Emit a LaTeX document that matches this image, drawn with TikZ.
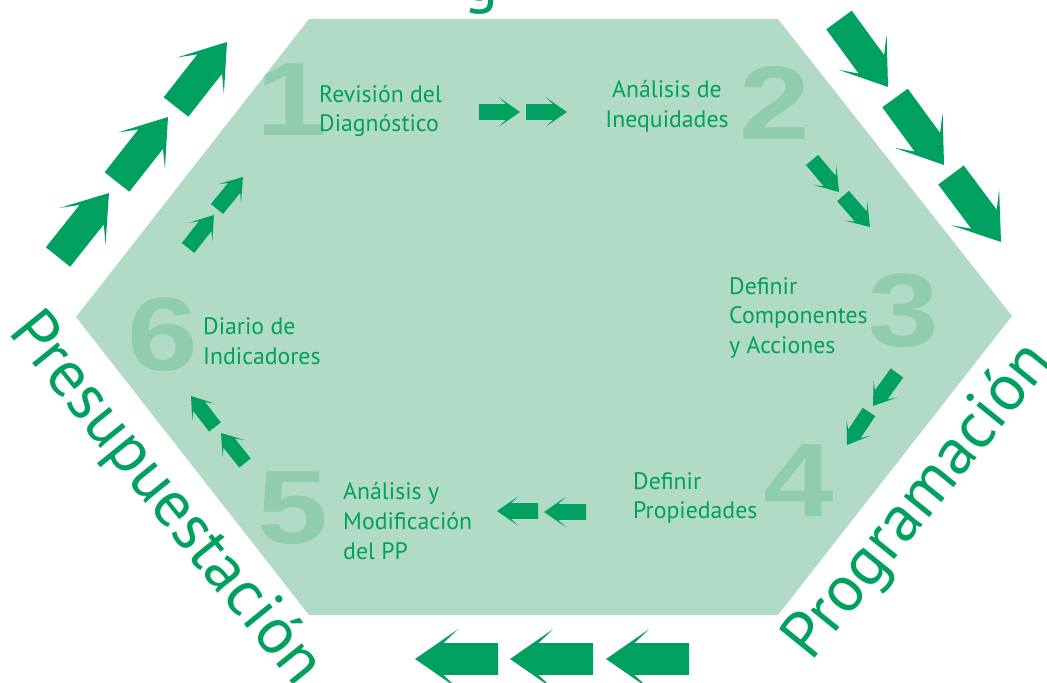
\documentclass[tikz,border=0pt]{standalone}
\usepackage{fontspec}
\setmainfont{PT Sans}
\newfontfamily\numfont{Liberation Sans}
\usetikzlibrary{calc}

\definecolor{hexfill}{RGB}{178,219,199}
\definecolor{numgreen}{RGB}{143,204,176}
\definecolor{leafgreen}{RGB}{0,161,96}

\begin{document}
\begin{tikzpicture}[x=0.03cm,y=-0.03cm,
    paso/.style={anchor=west,align=left,inner sep=0pt,text=leafgreen,font=\fontsize{20.3}{25.5}\selectfont},
    cifra/.style={text=numgreen,inner sep=0pt,xscale=1.22,font=\numfont\bfseries\fontsize{89}{89}\selectfont},
    etapa/.style={text=leafgreen,inner sep=0pt,font=\fontsize{56}{60}\selectfont}]

      \useasboundingbox (0,0) rectangle (1047,683);
      \clip (0,0) rectangle (1047,683);

      % Hexagon
      \fill[hexfill] (309,19) -- (778,19) -- (1012,316) -- (778,615) -- (309,615) -- (76,317) -- cycle;

      % Define the positions of the numbers
      \node[cifra] (n1) at (292,100) {1};
      \node[cifra] (n2) at (775,103) {2};
      \node[cifra] (n3) at (904,311) {3};
      \node[cifra] (n4) at (799,481) {4};
      \node[cifra] (n5) at (293,508) {5};
      \node[cifra] (n6) at (163,335) {6};

      % Define the positions of the steps
      \node[paso] (paso1) at (319,111) {Revisión del\\Diagnóstico};
      \node[paso,anchor=center,align=center] (paso2) at (667,106) {Análisis de\\Inequidades};
      \node[paso] (paso3) at (729,318) {Definir\\Componentes\\y Acciones};
      \node[paso] (paso4) at (633,498) {Definir\\Propiedades};
      \node[paso] (paso5) at (343,521) {Análisis y\\Modificación\\del PP};
      \node[paso] (paso6) at (203,341) {Diario de\\Indicadores};

      % Draw the arrows (tail x/y, tip x/y)
      \foreach \xa/\ya/\xb/\yb in {58/257/109/193, 117/182/168/117, 176/107/227/42,
                                   188/248/214/215, 217/209/243/177,
                                   479/112/520/112, 526/112/567/112,
                                   839/20/888/87, 895/98/944/165, 951/175/1001/242,
                                   812/160/839/192, 843/196/870/227,
                                   897/373/873/406, 869/412/847/445,
                                   538/511/497/511, 586/512/544/512,
                                   498/659/415/659, 593/659/510/659, 689/659/606/659,
                                   215/427/191/396, 245/463/221/433}
        \fill[leafgreen] ($(\xa,\ya)!0.19!90:(\xb,\yb)$)
          -- ($(\xa,\ya)!0.66!(\xb,\yb)!0.559!90:(\xb,\yb)$)
          -- ($(\xa,\ya)!0.48!(\xb,\yb)!0.692!90:(\xb,\yb)$)
          -- (\xb,\yb)
          -- ($(\xa,\ya)!0.48!(\xb,\yb)!0.692!-90:(\xb,\yb)$)
          -- ($(\xa,\ya)!0.66!(\xb,\yb)!0.559!-90:(\xb,\yb)$)
          -- ($(\xa,\ya)!0.19!-90:(\xb,\yb)$) -- cycle;

      % Stage labels
      \node[etapa,rotate=51] (prog) at (920,502) {Programación};
      \node[etapa,rotate=-51] (presu) at (165,500) {Presupuestación};
      \node[etapa,anchor=base] (arriba) at (481,1) {g};
\end{tikzpicture}
\end{document}
